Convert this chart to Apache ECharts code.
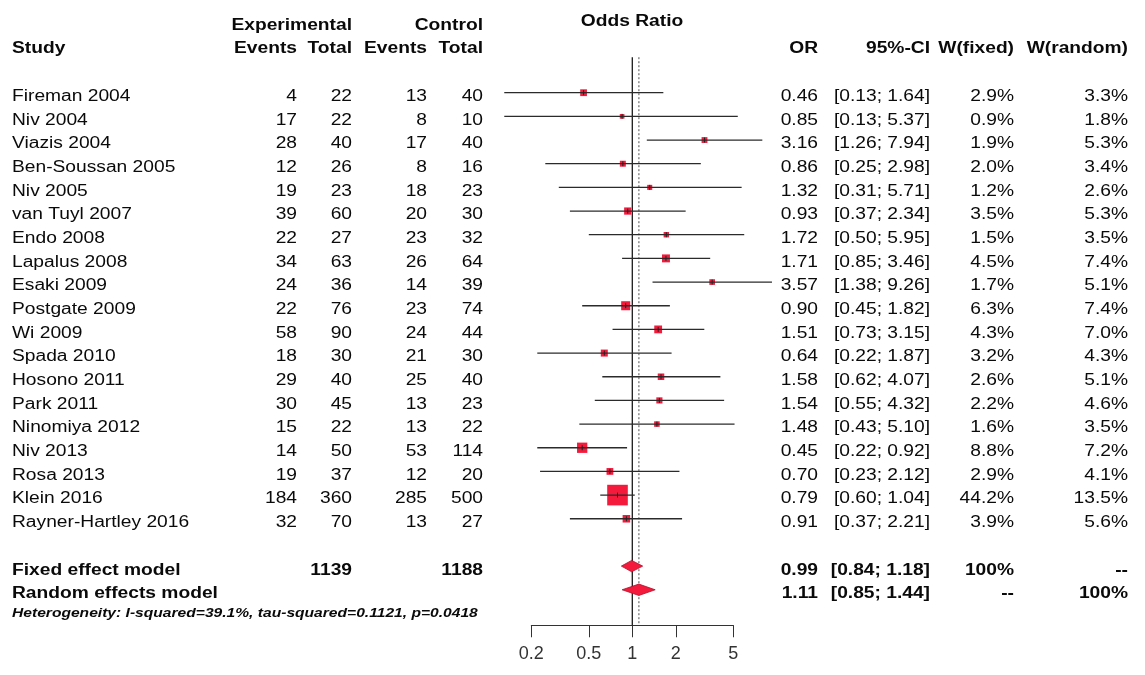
<!DOCTYPE html>
<html>
<head>
<meta charset="utf-8">
<script src="https://cdn.jsdelivr.net/npm/echarts@6/dist/echarts.min.js"></script>
<style>
  html, body { margin: 0; padding: 0; background: #ffffff; }
  #chart { width: 1145px; height: 675px; }
</style>
</head>
<body>
<div id="chart"></div>
<script>
// ---- Study data ----
const studies = ['Fireman 2004', 'Niv 2004', 'Viazis 2004', 'Ben-Soussan 2005', 'Niv 2005',
  'van Tuyl 2007', 'Endo 2008', 'Lapalus 2008', 'Esaki 2009', 'Postgate 2009', 'Wi 2009',
  'Spada 2010', 'Hosono 2011', 'Park 2011', 'Ninomiya 2012', 'Niv 2013', 'Rosa 2013',
  'Klein 2016', 'Rayner-Hartley 2016'];
const expEvents  = [4, 17, 28, 12, 19, 39, 22, 34, 24, 22, 58, 18, 29, 30, 15, 14, 19, 184, 32];
const expTotal   = [22, 22, 40, 26, 23, 60, 27, 63, 36, 76, 90, 30, 40, 45, 22, 50, 37, 360, 70];
const ctrlEvents = [13, 8, 17, 8, 18, 20, 23, 26, 14, 23, 24, 21, 25, 13, 13, 53, 12, 285, 13];
const ctrlTotal  = [40, 10, 40, 16, 23, 30, 32, 64, 39, 74, 44, 30, 40, 23, 22, 114, 20, 500, 27];
const oddsRatio  = [0.46, 0.85, 3.16, 0.86, 1.32, 0.93, 1.72, 1.71, 3.57, 0.90, 1.51, 0.64, 1.58, 1.54, 1.48, 0.45, 0.70, 0.79, 0.91];
const ciLower    = [0.13, 0.13, 1.26, 0.25, 0.31, 0.37, 0.50, 0.85, 1.38, 0.45, 0.73, 0.22, 0.62, 0.55, 0.43, 0.22, 0.23, 0.60, 0.37];
const ciUpper    = [1.64, 5.37, 7.94, 2.98, 5.71, 2.34, 5.95, 3.46, 9.26, 1.82, 3.15, 1.87, 4.07, 4.32, 5.10, 0.92, 2.12, 1.04, 2.21];
const weightFixed  = [2.9, 0.9, 1.9, 2.0, 1.2, 3.5, 1.5, 4.5, 1.7, 6.3, 4.3, 3.2, 2.6, 2.2, 1.6, 8.8, 2.9, 44.2, 3.9];
const weightRandom = [3.3, 1.8, 5.3, 3.4, 2.6, 5.3, 3.5, 7.4, 5.1, 7.4, 7.0, 4.3, 5.1, 4.6, 3.5, 7.2, 4.1, 13.5, 5.6];

// ---- Pooled estimates ----
const pooledModels  = ['Fixed effect model', 'Random effects model'];
const pooledOR      = [0.99, 1.11];
const pooledLower   = [0.84, 0.85];
const pooledUpper   = [1.18, 1.44];
const pooledWFixed  = ['100%', '--'];
const pooledWRandom = ['--', '100%'];
const totalExp  = 1139;
const totalCtrl = 1188;
const heterogeneity = 'Heterogeneity: I-squared=39.1%, tau-squared=0.1121, p=0.0418';

// ---- Axis ----
const axisTicks = [0.2, 0.5, 1, 2, 5];

// ---- Layout ----
const ROW0 = 92.7, ROWH = 23.67;          // first study row and row pitch (px)
const Y_MIN = -3, Y_MAX = 24;
const DECADE = 144.5, X_ONE = 632.3;        // px per log10 unit, px of OR = 1
const AXIS_ROW = 22.5;
const axisY = ROW0 + AXIS_ROW * ROWH;
const TEXT_SCALE = 1.2;
const INK = '#0a0a0a';
const RED = '#f41a3c';
const FONT = '"Liberation Sans", Arial, sans-serif';

const col = {
  study:      { x: 12,   align: 'left' },
  expEvents:  { x: 297,  align: 'right' },
  expTotal:   { x: 352,  align: 'right' },
  ctrlEvents: { x: 427,  align: 'right' },
  ctrlTotal:  { x: 483,  align: 'right' },
  or:         { x: 818,  align: 'right' },
  ci:         { x: 930,  align: 'right' },
  wFixed:     { x: 1014, align: 'right' },
  wRandom:    { x: 1128, align: 'right' },
  title:      { x: 632,  align: 'center' }
};

const fmt2 = v => v.toFixed(2);
const ciText = (lo, hi) => '[' + fmt2(lo) + '; ' + fmt2(hi) + ']';
const pct = v => v.toFixed(1) + '%';

// ---- Table cells ----
const cells = [];
function cell(row, c, text, opts) {
  cells.push(Object.assign({ row: row, col: c, text: String(text), bold: false, italic: false, size: 16, dy: 4 }, opts || {}));
}
// headers
cell(-3, 'expTotal', 'Experimental', { bold: true });
cell(-3, 'ctrlTotal', 'Control', { bold: true });
cell(-3, 'title', 'Odds Ratio', { bold: true, dy: 0 });
cell(-2, 'study', 'Study', { bold: true, dy: 3 });
cell(-2, 'expEvents', 'Events', { bold: true, dy: 3 });
cell(-2, 'expTotal', 'Total', { bold: true, dy: 3 });
cell(-2, 'ctrlEvents', 'Events', { bold: true, dy: 3 });
cell(-2, 'ctrlTotal', 'Total', { bold: true, dy: 3 });
cell(-2, 'or', 'OR', { bold: true, dy: 3 });
cell(-2, 'ci', '95%-CI', { bold: true, dy: 3 });
cell(-2, 'wFixed', 'W(fixed)', { bold: true, dy: 3 });
cell(-2, 'wRandom', 'W(random)', { bold: true, dy: 3 });
// study rows
studies.forEach((s, i) => {
  cell(i, 'study', s);
  cell(i, 'expEvents', expEvents[i]);
  cell(i, 'expTotal', expTotal[i]);
  cell(i, 'ctrlEvents', ctrlEvents[i]);
  cell(i, 'ctrlTotal', ctrlTotal[i]);
  cell(i, 'or', fmt2(oddsRatio[i]));
  cell(i, 'ci', ciText(ciLower[i], ciUpper[i]));
  cell(i, 'wFixed', pct(weightFixed[i]));
  cell(i, 'wRandom', pct(weightRandom[i]));
});
// pooled rows
const pooledRow0 = studies.length + 1;
pooledModels.forEach((m, k) => {
  const r = pooledRow0 + k;
  cell(r, 'study', m, { bold: true });
  if (k === 0) {
    cell(r, 'expTotal', totalExp, { bold: true });
    cell(r, 'ctrlTotal', totalCtrl, { bold: true });
  }
  cell(r, 'or', fmt2(pooledOR[k]), { bold: true });
  cell(r, 'ci', ciText(pooledLower[k], pooledUpper[k]), { bold: true });
  cell(r, 'wFixed', pooledWFixed[k], { bold: true });
  cell(r, 'wRandom', pooledWRandom[k], { bold: true });
});
cell(pooledRow0 + 1.85, 'study', heterogeneity, { bold: true, italic: true, size: 13, dy: 3.5 });

// ---- Chart ----
const chart = echarts.init(document.getElementById('chart'), null, { renderer: 'canvas' });

const option = {
  animation: false,
  backgroundColor: '#ffffff',
  grid: [
    { left: X_ONE - DECADE, width: 2 * DECADE, top: ROW0 + Y_MIN * ROWH, height: (Y_MAX - Y_MIN) * ROWH },
    { left: X_ONE + DECADE * Math.log10(axisTicks[0]),
      width: DECADE * Math.log10(axisTicks[axisTicks.length - 1] / axisTicks[0]),
      top: axisY - 100, height: 100 }
  ],
  xAxis: [
    { type: 'log', logBase: 10, gridIndex: 0, min: 0.1, max: 10, show: false },
    { type: 'log', logBase: 10, gridIndex: 1, min: axisTicks[0], max: axisTicks[axisTicks.length - 1],
      position: 'bottom',
      axisLine: { show: true, lineStyle: { color: '#333333', width: 1 } },
      axisTick: { show: true, customValues: axisTicks, length: 12, inside: false,
                  lineStyle: { color: '#333333', width: 1 } },
      axisLabel: { show: true, customValues: axisTicks, margin: 20, fontSize: 18,
                   fontFamily: FONT, color: '#333333',
                   formatter: v => String(+(+v).toPrecision(3)) },
      splitLine: { show: false } }
  ],
  yAxis: [
    { type: 'value', gridIndex: 0, inverse: true, min: Y_MIN, max: Y_MAX, show: false },
    { type: 'value', gridIndex: 1, min: 0, max: 1, show: false }
  ],
  series: [
    // reference lines: no effect (OR = 1) and random-effects estimate
    {
      type: 'custom', name: 'reference', xAxisIndex: 0, yAxisIndex: 0, clip: false, silent: true,
      data: [[1, -1.5, AXIS_ROW], [pooledOR[1], -1.5, AXIS_ROW]],
      renderItem: (params, api) => {
        const top = api.coord([api.value(0), api.value(1)]);
        const bot = api.coord([api.value(0), api.value(2)]);
        const dotted = params.dataIndex === 1;
        return {
          type: 'line',
          shape: { x1: top[0], y1: top[1], x2: bot[0], y2: bot[1] },
          style: dotted ? { stroke: '#8a8a8a', lineWidth: 1.5, lineDash: [2, 2] }
                        : { stroke: '#1a1a1a', lineWidth: 1.3 }
        };
      },
      z: 1
    },
    // study squares with confidence intervals
    {
      type: 'custom', name: 'studies', xAxisIndex: 0, yAxisIndex: 0, clip: false, silent: true,
      data: studies.map((s, i) => [oddsRatio[i], ciLower[i], ciUpper[i], i, weightFixed[i]]),
      renderItem: (params, api) => {
        const c = api.coord([api.value(0), api.value(3)]);
        const lo = api.coord([api.value(1), api.value(3)]);
        const hi = api.coord([api.value(2), api.value(3)]);
        const side = 2.8 * Math.sqrt(api.value(4)) + 2;
        return {
          type: 'group',
          children: [
            { type: 'rect', shape: { x: c[0] - side / 2, y: c[1] - side / 2, width: side, height: side },
              style: { fill: RED } },
            { type: 'line', shape: { x1: lo[0], y1: c[1], x2: hi[0], y2: c[1] },
              style: { stroke: '#2b2b2b', lineWidth: 1.3 } },
            { type: 'line', shape: { x1: c[0], y1: c[1] - 2.5, x2: c[0], y2: c[1] + 2.5 },
              style: { stroke: '#222222', lineWidth: 1 } }
          ]
        };
      },
      z: 2
    },
    // pooled diamonds
    {
      type: 'custom', name: 'pooled', xAxisIndex: 0, yAxisIndex: 0, clip: false, silent: true,
      data: pooledModels.map((m, k) => [pooledOR[k], pooledLower[k], pooledUpper[k], pooledRow0 + k]),
      renderItem: (params, api) => {
        const c = api.coord([api.value(0), api.value(3)]);
        const lo = api.coord([api.value(1), api.value(3)]);
        const hi = api.coord([api.value(2), api.value(3)]);
        const h = 5.7;
        return {
          type: 'polygon',
          shape: { points: [[lo[0], c[1]], [c[0], c[1] - h], [hi[0], c[1]], [c[0], c[1] + h]] },
          style: { fill: RED, stroke: '#b0102a', lineWidth: 0.8 }
        };
      },
      z: 3
    },
    // table text
    {
      type: 'custom', name: 'table', xAxisIndex: 0, yAxisIndex: 0, clip: false, silent: true,
      data: cells.map(c => [1, c.row]),
      renderItem: (params, api) => {
        const c = cells[params.dataIndex];
        const y = api.coord([1, c.row])[1] + c.dy;
        const spec = col[c.col];
        const font = (c.italic ? 'italic ' : '') + (c.bold ? 'bold ' : '') + c.size + 'px ' + FONT;
        return {
          type: 'text',
          x: spec.x, y: y, scaleX: TEXT_SCALE, scaleY: 1,
          style: { text: c.text, x: 0, y: 0, fill: INK, font: font,
                   textAlign: spec.align, textVerticalAlign: 'middle' }
        };
      },
      z: 4
    }
  ]
};

chart.setOption(option);
</script>
</body>
</html>
